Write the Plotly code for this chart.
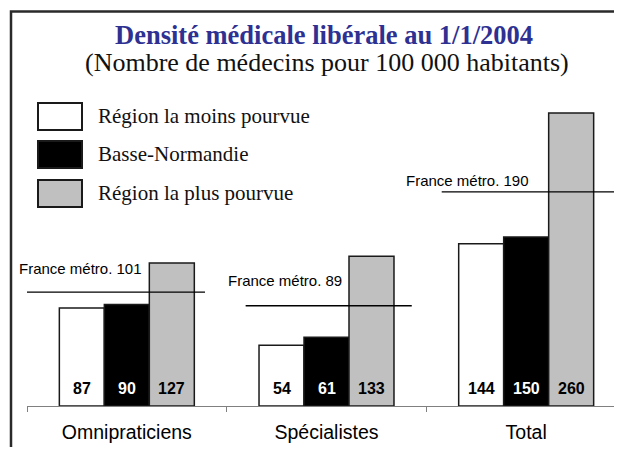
import plotly.graph_objects as go

# data
categories = ["Omnipraticiens", "Spécialistes", "Total"]
series_names = ["Région la moins pourvue", "Basse-Normandie", "Région la plus pourvue"]
moins_pourvue = [87, 54, 144]
basse_normandie = [90, 61, 150]
plus_pourvue = [127, 133, 260]
france_metro = [101, 89, 190]

series_values = [moins_pourvue, basse_normandie, plus_pourvue]
fills = ["#ffffff", "#000000", "#c0c0c0"]
text_colors = ["#000000", "#ffffff", "#000000"]

SERIF = "Liberation Serif, Times New Roman, serif"
SANS = "Liberation Sans, Arial, sans-serif"

# the page body has an 8px margin, so the figure is drawn 8px in from the corner
OFF = 8
W, H = 622 - 2 * OFF, 455 - 2 * OFF
# plot area in page pixels
PL, PR, PT, PB = 27, 614, 68, 406


def px_x(p):
    # page pixel -> paper x
    return (p - PL) / (PR - PL)


def px_y(p):
    # page pixel -> paper y
    return (PB - p) / (PB - PT)


fig = go.Figure()

for name, vals, fill in zip(series_names, series_values, fills):
    fig.add_trace(go.Bar(
        x=categories, y=vals, name=name,
        marker=dict(color=fill, line=dict(color="#1a1a1a", width=1.5)),
        showlegend=False,
    ))

# value labels at the bottom of each bar
for i, (vals, tc) in enumerate(zip(series_values, text_colors)):
    for cat, v in zip(categories, vals):
        fig.add_annotation(
            x=cat, y=0, text="<b>%d</b>" % v, showarrow=False,
            xshift=(i - 1) * 45, yshift=18, yanchor="middle",
            font=dict(family=SANS, size=16, color=tc),
        )

# France métro reference lines
line_x0 = [-0.5, 0.595, 1.577]
line_x1 = [0.3915, 1.427, 2.5]
label_x = [-0.5, 0.5, 1.393]
label_xshift = [-10, -1, -1]
label_yshift = [24, 25, 11]
for i, v in enumerate(france_metro):
    fig.add_shape(type="line", xref="x", yref="y",
                  x0=line_x0[i], x1=line_x1[i], y0=v, y1=v,
                  line=dict(color="#000000", width=1.3))
    fig.add_annotation(
        x=label_x[i], y=v, text="France métro. %d" % v, showarrow=False,
        xanchor="left", yanchor="middle", xshift=label_xshift[i], yshift=label_yshift[i],
        font=dict(family=SANS, size=15, color="#000000"),
    )

# frame around the chart
fig.add_shape(type="rect", xref="paper", yref="paper",
              x0=px_x(11), x1=px_x(660), y0=px_y(480), y1=px_y(11.5),
              line=dict(color="#2a2a2a", width=2.5), fillcolor="rgba(0,0,0,0)")

# title
fig.add_annotation(xref="paper", yref="paper", x=px_x(324), y=px_y(35.5),
                   text="<b>Densité médicale libérale au 1/1/2004</b>", showarrow=False,
                   xanchor="center", yanchor="middle",
                   font=dict(family=SERIF, size=26.5, color="#2e3192"))
fig.add_annotation(xref="paper", yref="paper", x=px_x(327), y=px_y(62.5),
                   text="(Nombre de médecins pour 100 000 habitants)", showarrow=False,
                   xanchor="center", yanchor="middle",
                   font=dict(family=SERIF, size=26, color="#111111"))

# legend drawn as boxes
box_tops = [103, 141, 180]
for name, fill, top in zip(series_names, fills, box_tops):
    fig.add_shape(type="rect", xref="paper", yref="paper",
                  x0=px_x(38), x1=px_x(82), y0=px_y(top + 27), y1=px_y(top),
                  line=dict(color="#1a1a1a", width=2), fillcolor=fill)
    fig.add_annotation(xref="paper", yref="paper", x=px_x(96), y=px_y(top + 13),
                       text=name, showarrow=False, xanchor="left", yanchor="middle",
                       font=dict(family=SERIF, size=21, color="#111111"))

fig.update_layout(
    width=W, height=H,
    margin=dict(l=PL - OFF, r=W - (PR - OFF), t=PT - OFF, b=H - (PB - OFF)),
    paper_bgcolor="white", plot_bgcolor="white",
    barmode="group", bargap=0.324, bargroupgap=0,
    xaxis=dict(type="category", range=[-0.5, -0.5 + (PR - PL) / 199.67], showgrid=False,
               showline=True, linecolor="#808080", linewidth=1,
               ticks="outside", tickson="boundaries", ticklen=5, tickcolor="#808080",
               ticklabelstandoff=9,
               tickfont=dict(family=SANS, size=19.5, color="#000000")),
    yaxis=dict(range=[0, 300], showgrid=False, zeroline=False, showline=False,
               showticklabels=False, ticks=""),
)

fig.write_html("out.html")
